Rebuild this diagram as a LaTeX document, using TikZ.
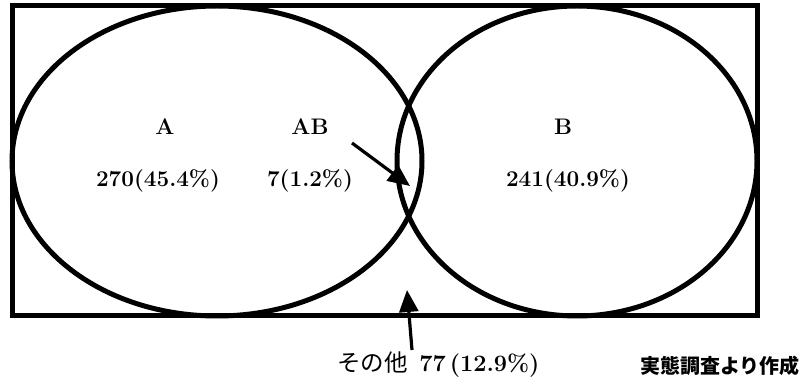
\documentclass[tikz,border=0pt]{standalone}
\usepackage{fontspec}
\newfontfamily\jpfont{Noto Sans CJK JP}
\usetikzlibrary{arrows.meta}
\tikzset{
  setline/.style={line width=5pt},
  lbl/.style={inner sep=0pt,font=\fontsize{22.5}{26}\selectfont\bfseries},
  ptr/.style={-{Triangle[length=22pt,width=19pt]},line width=3.2pt},
}

\begin{document}
\begin{tikzpicture}[x=1pt,y=-1pt]
\useasboundingbox (0,0) rectangle (804,379);
% universe and the two sets
\draw[line width=5pt] (12,6) rectangle (757,316);
\draw[setline] (217,161) ellipse [x radius=205,y radius=155];
\draw[setline] (577,161) ellipse [x radius=180,y radius=155];
% labels and counts
\foreach \name/\x/\txt in {A/165/A,AB/310/AB,B/563/B} {\node[lbl] (n\name) at (\x,127) {\txt};}
\foreach \name/\x/\txt in {A/158/270(45.4\%),AB/310/7(1.2\%),B/568/241(40.9\%)} {\node[lbl] (cnt\name) at (\x,181) {\txt};}
\node[lbl,anchor=west,font=\fontsize{23.5}{27}\selectfont\bfseries] (other) at (337,365) {{\jpfont\mdseries その他}\hspace{0.5em}77\,(12.9\%)};
\node[inner sep=0pt,anchor=east,font=\fontsize{20}{24}\selectfont\jpfont\bfseries] (source) at (800,366) {実態調査より作成};
% pointers
\coordinate (abtail) at (352,143);
\coordinate (abtip) at (410,186);
\coordinate (othtail) at (412,350);
\coordinate (othtip) at (407,290);
\draw[ptr] (abtail) -- (abtip);
\draw[ptr] (othtail) -- (othtip);
\end{tikzpicture}
\end{document}
